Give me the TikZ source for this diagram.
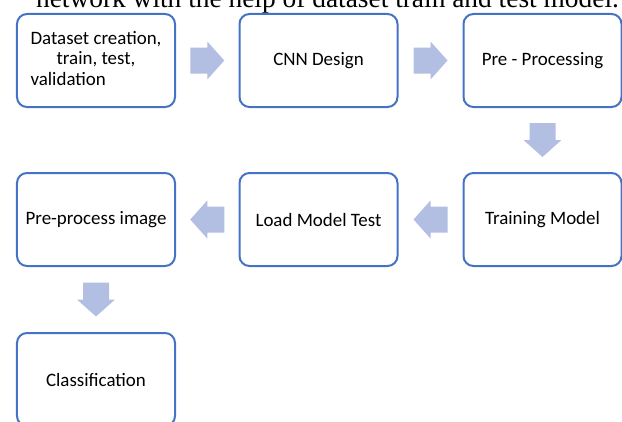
\documentclass[tikz,border=0pt]{standalone}
\usepackage{fontspec}
\setmainfont{Carlito}
\newfontfamily\captionserif{Liberation Serif}
\usetikzlibrary{calc}
\definecolor{boxblue}{RGB}{68,114,196}
\definecolor{arrowfill}{RGB}{178,190,226}
\tikzset{
  x=1bp, y=1bp,
  stepbox/.style={draw=boxblue, line width=2bp, rounded corners=10bp, fill=white,
    minimum width=158bp, minimum height=93bp, inner sep=0pt,
    font=\fontsize{19}{20.5}\selectfont, text=black, align=center},
  blockarrow/.pic={\fill[arrowfill] (-17,-13) -- (0,-13) -- (0,-19) -- (17,0) -- (0,19) -- (0,13) -- (-17,13) -- cycle;}
}
\begin{document}
\begin{tikzpicture}
\useasboundingbox (0,0) rectangle (622,421);
\clip (0,0) rectangle (622,421);
\node[font=\captionserif\fontsize{27.5}{29}\selectfont, anchor=base] (cap) at (327.5,413) {network with the help of dataset train and test model.};
\node[stepbox] (a) at (96,360.5) {\begin{tabular}{@{}l@{}}Dataset creation,\\\hfil train, test,\\validation\end{tabular}};
\node[stepbox] (b) at (318.5,360.5) {CNN Design};
\node[stepbox] (c) at (542.5,360.5) {Pre - Processing};
\node[stepbox] (d) at (542.5,201.5) {Training Model};
\node[stepbox] (e) at (318.5,201.5) {Load Model Test};
\node[stepbox] (f) at (96,201.5) {Pre-process image};
\node[stepbox] (g) at (96,41.5) {Classification};
\pic at ($(a.east)!0.5!(b.west)$) {blockarrow};
\pic at ($(b.east)!0.5!(c.west)$) {blockarrow};
\pic[rotate=-90] at ($(c.south)!0.5!(d.north)$) {blockarrow};
\pic[rotate=180] at ($(d.west)!0.5!(e.east)$) {blockarrow};
\pic[rotate=180] at ($(e.west)!0.5!(f.east)$) {blockarrow};
\pic[rotate=-90] at ($(f.south)!0.5!(g.north)$) {blockarrow};
\end{tikzpicture}
\end{document}
